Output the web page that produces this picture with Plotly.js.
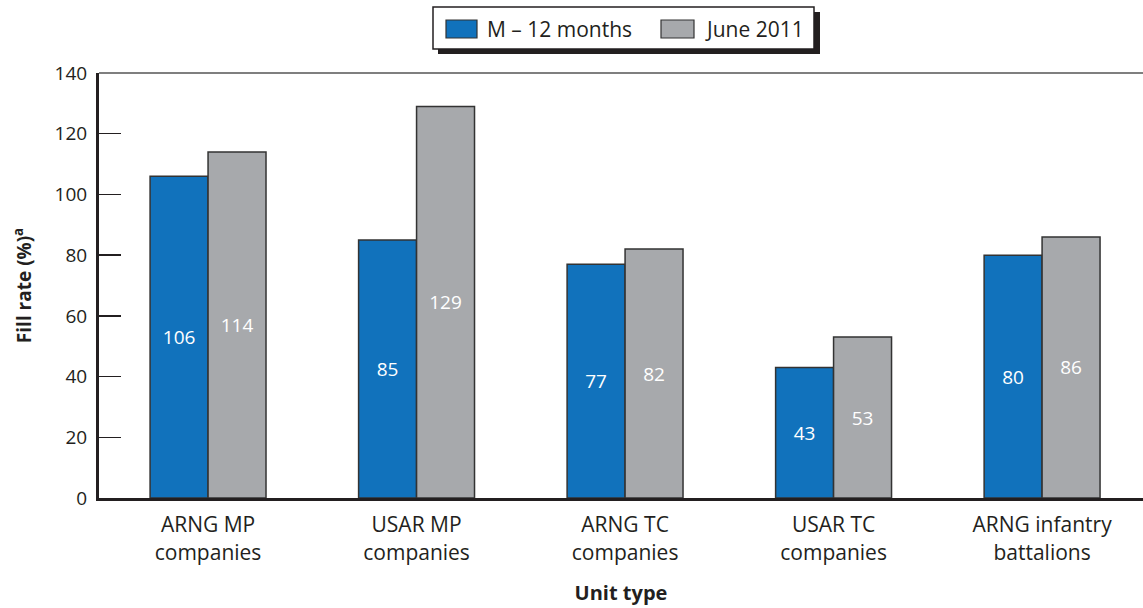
<!DOCTYPE html>
<html>
<head>
<meta charset="utf-8">
<script src="https://cdn.plot.ly/plotly-3.0.1.min.js"></script>
<style>html,body{margin:0;padding:0;background:#fff;}#chart{width:1143px;height:608px;}</style>
</head>
<body>
<div id="chart"></div>
<script>
var categories = ["ARNG MP<br>companies", "USAR MP<br>companies", "ARNG TC<br>companies", "USAR TC<br>companies", "ARNG infantry<br>battalions"];
var seriesNames = ["M \u2013 12 months", "June 2011"];
var seriesColors = ["#1172bc", "#a7a9ac"];
var mMinus12 = [106, 85, 77, 43, 80];
var june2011 = [114, 129, 82, 53, 86];
var yTicks = [0, 20, 40, 60, 80, 100, 120, 140];

var FONT = "Open Sans, Noto Sans, sans-serif";
var INK = "#231f20";

// plot area in pixels (for placing the hand-built legend box)
var PL = 99, PR = 1143, PT = 73, PB = 498;
function px(x) { return (x - PL) / (PR - PL); }
function py(y) { return (PB - y) / (PB - PT); }

function barTrace(name, vals, color) {
  return {
    type: "bar",
    name: name,
    x: categories,
    y: vals,
    text: vals.map(String),
    textposition: "inside",
    insidetextanchor: "middle",
    textangle: 0,
    textfont: {family: FONT, size: 19, color: "#ffffff"},
    marker: {color: color, line: {color: "#333333", width: 1.5}},
    hoverinfo: "skip",
    showlegend: false
  };
}

var data = [
  barTrace(seriesNames[0], mMinus12, seriesColors[0]),
  barTrace(seriesNames[1], june2011, seriesColors[1])
];

// legend built from the series names/colours
var swatchX = [[446, 477], [661, 694]];
var labelX = [485, 703];
var shapes = [
  {type: "line", xref: "paper", yref: "paper", x0: 0, x1: 1, y0: 1, y1: 1,
   line: {color: "#555555", width: 1.5}, layer: "below"},
  {type: "rect", xref: "paper", yref: "paper", x0: px(438), x1: px(820), y0: py(54), y1: py(12),
   fillcolor: INK, line: {width: 0}, layer: "above"},
  {type: "rect", xref: "paper", yref: "paper", x0: px(433), x1: px(814), y0: py(49), y1: py(7),
   fillcolor: "#ffffff", line: {color: INK, width: 1.5}, layer: "above"}
];
var annotations = [];
for (var i = 0; i < seriesNames.length; i++) {
  shapes.push({type: "rect", xref: "paper", yref: "paper",
    x0: px(swatchX[i][0]), x1: px(swatchX[i][1]), y0: py(38), y1: py(20),
    fillcolor: seriesColors[i], line: {color: "#333333", width: 1.2}, layer: "above"});
  annotations.push({xref: "paper", yref: "paper", x: px(labelX[i]), y: py(29),
    xanchor: "left", yanchor: "middle", showarrow: false, text: seriesNames[i],
    font: {family: FONT, size: 21, color: INK}});
}

var layout = {
  width: 1143,
  height: 608,
  margin: {l: PL, r: 1143 - PR, t: PT, b: 608 - PB},
  paper_bgcolor: "#ffffff",
  plot_bgcolor: "#ffffff",
  font: {family: FONT, color: INK, size: 19},
  barmode: "group",
  bargap: 0.444,
  bargroupgap: 0,
  showlegend: false,
  xaxis: {
    type: "category",
    range: [-0.523, 4.484],
    showline: true,
    linecolor: INK,
    linewidth: 3,
    ticks: "",
    showgrid: false,
    zeroline: false,
    ticklabelstandoff: 6,
    tickfont: {family: FONT, size: 21, color: INK},
    title: {text: "Unit type", font: {family: FONT, size: 20, color: INK, weight: "bold"}, standoff: 22}
  },
  yaxis: {
    range: [0, 140],
    tickvals: yTicks,
    ticktext: yTicks.map(String),
    showline: true,
    linecolor: INK,
    linewidth: 3,
    ticks: "inside",
    ticklen: 22,
    tickwidth: 1.5,
    tickcolor: INK,
    ticklabelstandoff: 5,
    showgrid: false,
    zeroline: false,
    tickfont: {family: FONT, size: 19, color: INK},
    title: {text: "Fill rate (%)<sup>a</sup>", font: {family: FONT, size: 19, color: INK, weight: "bold"}, standoff: 18}
  },
  shapes: shapes,
  annotations: annotations
};

Plotly.newPlot("chart", data, layout, {displayModeBar: false, staticPlot: true});
</script>
</body>
</html>
